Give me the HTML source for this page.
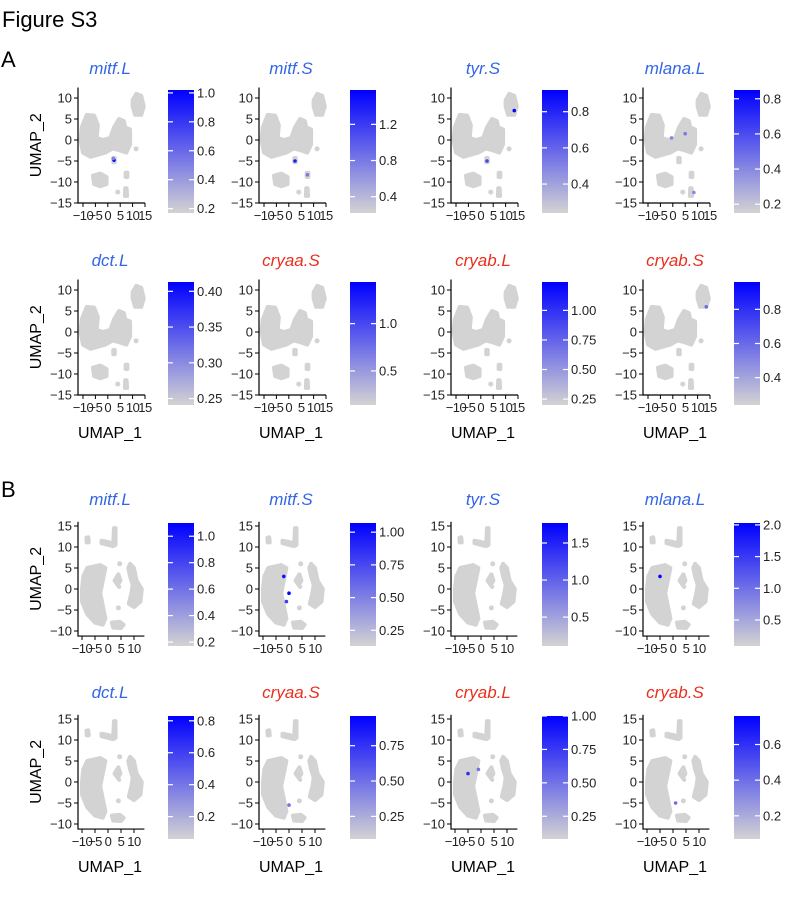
<!DOCTYPE html>
<html><head><meta charset="utf-8"><style>
html,body{margin:0;padding:0;background:#fff;}
svg{display:block;font-family:"Liberation Sans",Arial,sans-serif;}
</style></head><body>
<svg id="fig" width="790" height="907" viewBox="0 0 790 907" xmlns="http://www.w3.org/2000/svg">
<defs><linearGradient id="cbg" x1="0" y1="1" x2="0" y2="0"><stop offset="0" stop-color="#d3d3d3"/><stop offset="1" stop-color="#0000ff"/></linearGradient></defs>
<text x="2" y="27" font-size="22">Figure S3</text>
<text x="1" y="67" font-size="22">A</text>
<text x="1" y="497" font-size="22">B</text>
</svg>
<script>
const genes = ["mitf.L","mitf.S","tyr.S","mlana.L","dct.L","cryaa.S","cryab.L","cryab.S"];
const geneIsRed = [false,false,false,false,false,true,true,true];
const rangesA = [[0.17,1.02],[0.22,1.58],[0.24,0.92],[0.15,0.85],[0.241,0.413],[0.14,1.44],[0.2,1.24],[0.24,0.96]];
const ticksA = [["0.2","0.4","0.6","0.8","1.0"],["0.4","0.8","1.2"],["0.4","0.6","0.8"],["0.2","0.4","0.6","0.8"],["0.25","0.30","0.35","0.40"],["0.5","1.0"],["0.25","0.50","0.75","1.00"],["0.4","0.6","0.8"]];
const rangesB = [[0.17,1.1],[0.13,1.07],[0.11,1.77],[0.09,2.03],[0.06,0.83],[0.09,0.96],[0.08,1.0],[0.07,0.76]];
const ticksB = [["0.2","0.4","0.6","0.8","1.0"],["0.25","0.50","0.75","1.00"],["0.5","1.0","1.5"],["0.5","1.0","1.5","2.0"],["0.2","0.4","0.6","0.8"],["0.25","0.50","0.75"],["0.25","0.50","0.75","1.00"],["0.2","0.4","0.6"]];
const blobsA = [
 [[-10.5,3],[-8.5,6],[-5.5,5.8],[-4,3.5],[-4.5,0.5],[-2,0],[1,0.5],[2.5,3],[4.5,5],[6.5,4.5],[7,3],[9,2.5],[9,-1],[7.5,-3],[5,-2.5],[2,-2],[-1,-3],[-4,-3.5],[-7,-4],[-10,-3],[-11,0]],
 [[10,9.5],[11.5,11],[13.5,10.5],[14.5,8],[13.5,6],[11,6],[10,8]],
 [[-6,-8.5],[-3,-8],[-0.5,-8.8],[-0.5,-10.5],[-3,-11],[-5.5,-10.5]],
 [[2.2,-4.3],[2.8,-4.3],[2.8,-5.3],[2.2,-5.3]],
 [[7.2,-7.8],[7.9,-7.8],[7.9,-8.8],[7.2,-8.8]],
 [[7,-11.5],[7.6,-11.5],[7.8,-13.3],[6.9,-13.3]]
];
const dotsA = [[4,-12.4],[11.4,-2.1]];
const blobsB = [
 [[-9.5,3],[-8,5],[-3,5.7],[-1,5],[-2,2],[-3,-1],[-2,-4],[-1,-7],[-2,-8.5],[-5,-8],[-8,-6],[-10,-3],[-10,0]],
 [[1.5,-8],[4.5,-7.8],[6,-8.5],[5,-9.3],[2,-9.2]],
 [[8.5,6],[10,5],[11,2],[13,0],[12.5,-3],[10,-4.3],[8,-3.5],[9,-1],[9.5,1],[8.5,3],[7.8,5]],
 [[2.5,2],[4,3.5],[4.8,2],[3.8,1],[4.3,0.5]],
 [[-2.5,11.5],[0,11.2],[2,10.8],[2.3,14.5],[2.9,14.5],[2.9,10.5],[2,10.2],[-2.5,10.9]],
 [[-8.3,12.2],[-7.6,12.3],[-7.4,11.1],[-8.2,11.1]]
];
const dotsB = [[4.5,6],[4,-4.5]];
const hiA = [[[2.5,-4.8,1.0],[2.2,-4.4,0.5]],[[2.5,-5,1.4],[7.5,-8.3,0.8]],[[13.5,7,0.9],[2.5,-5,0.7]],[[5,1.5,0.45],[-0.5,0.5,0.4],[8.5,-12.5,0.4]],[],[],[],[[13.5,6,0.6]]];
const hiB = [[],[[-2,3,1.0],[0,-1,1.05],[-1,-3,0.8]],[],[[-5,3,2.0]],[],[[0,-5.5,0.5]],[[-5,2,0.8],[-1,3,0.5]],[[1,-5,0.4]]];

const NS="http://www.w3.org/2000/svg";
const svg=document.getElementById('fig');
function mk(tag,attrs,parent){const e=document.createElementNS(NS,tag);for(const k in attrs)e.setAttribute(k,attrs[k]);(parent||svg).appendChild(e);return e;}
const colX=[78,259,451,643];
function lerpColor(t){t=Math.max(0,Math.min(1,t));const r=Math.round(211*(1-t)),g=Math.round(211*(1-t)),b=Math.round(211+(255-211)*t);return `rgb(${r},${g},${b})`;}

function panel(sec,i){
  const col=i%4,row=Math.floor(i/4);
  const ax=colX[col];
  const isA=sec==='A';
  const y0 = isA ? 140+row*192 : 589+row*193;
  const sx = isA ? (x=>ax+5+(x+10)*2.48) : (x=>ax+4+(x+10)*2.6);
  const sy = y=> y0 - y*4.2;
  const xmin=isA?-12:-12.3, xmax=isA?15:14, ymin=isA?-15:-11.2, ymax=isA?12.5:16;
  const g=mk('g',{});
  
  
  const t=mk('text',{x:ax+32,y:(isA?74:505)+row*(isA?192:193),'font-size':17,'font-style':'italic','text-anchor':'middle',fill:geneIsRed[i]?'#e8301c':'#3366e6'},g);
  t.textContent=genes[i];
  
  
  const blobs=isA?blobsA:blobsB, dots=isA?dotsA:dotsB;
  blobs.forEach(b=>{const p=mk('polygon',{points:b.map(q=>sx(q[0])+','+sy(q[1])).join(' '),fill:'#d3d3d3',stroke:'#d3d3d3','stroke-width':4,'stroke-linejoin':'round'},g);
    
    });
  dots.forEach(d=>{const c=mk('circle',{cx:sx(d[0]),cy:sy(d[1]),r:2.5,fill:'#d3d3d3'},g);
    
    });
  const rng=(isA?rangesA:rangesB)[i];
  (isA?hiA:hiB)[i].forEach(h=>{const c=mk('circle',{cx:sx(h[0]),cy:sy(h[1]),r:1.8,fill:lerpColor((h[2]-rng[0])/(rng[1]-rng[0]))},g);
    
    });
  const by=sy(ymin), ty=sy(ymax), rx=sx(xmax);
  mk('line',{x1:ax,y1:ty,x2:ax,y2:by+0.5,stroke:'#000','stroke-width':1.2},g);
  mk('line',{x1:ax-0.5,y1:by,x2:rx,y2:by,stroke:'#000','stroke-width':1.2},g);
  const yt=isA?[-15,-10,-5,0,5,10]:[-10,-5,0,5,10,15];
  yt.forEach(v=>{mk('line',{x1:ax-4,y1:sy(v),x2:ax,y2:sy(v),stroke:'#000'},g);
    const l=mk('text',{x:ax-6,y:sy(v)+4.5,'font-size':13,'text-anchor':'end',fill:'#222'},g);l.textContent=(v<0?'\u2212':'')+Math.abs(v);
    
    });
  const xt=isA?[-10,-5,0,5,10,15]:[-10,-5,0,5,10];
  xt.forEach(v=>{mk('line',{x1:sx(v),y1:by,x2:sx(v),y2:by+4,stroke:'#000'},g);
    const l=mk('text',{x:sx(v),y:by+17,'font-size':13,'text-anchor':'middle',fill:'#222','letter-spacing':'-0.5'},g);l.textContent=(v<0?'\u2212':'')+Math.abs(v);
    
    });
  if(col===0){const l=mk('text',{x:0,y:0,'font-size':16,'text-anchor':'middle',transform:`translate(41,${(ty+by)/2}) rotate(-90)`},g);l.textContent='UMAP_2';
    
    }
  if(row===1){const l=mk('text',{x:ax+32,y:by+43,'font-size':16,'text-anchor':'middle'},g);l.textContent='UMAP_1';
    
    }
  const cbx=ax+90+(col>0?1:0), cbt=isA?90+row*192:523+row*193, cbh=123, cbw=26;
  const r=mk('rect',{x:cbx,y:cbt,width:cbw,height:cbh,fill:'url(#cbg)'},g);
  
  
  const cy=v=>cbt+cbh-(v-rng[0])/(rng[1]-rng[0])*cbh;
  (isA?ticksA:ticksB)[i].forEach(s=>{const v=parseFloat(s),yy=cy(v);
    mk('line',{x1:cbx,y1:yy,x2:cbx+5,y2:yy,stroke:'#fff','stroke-width':1.2},g);
    mk('line',{x1:cbx+cbw-5,y1:yy,x2:cbx+cbw,y2:yy,stroke:'#fff','stroke-width':1.2},g);
    const l=mk('text',{x:cbx+cbw+3,y:yy+4.5,'font-size':13,fill:'#222'},g);l.textContent=s;
    
    });
}
for(let i=0;i<8;i++){panel('A',i);panel('B',i);}
</script>
</body></html>
